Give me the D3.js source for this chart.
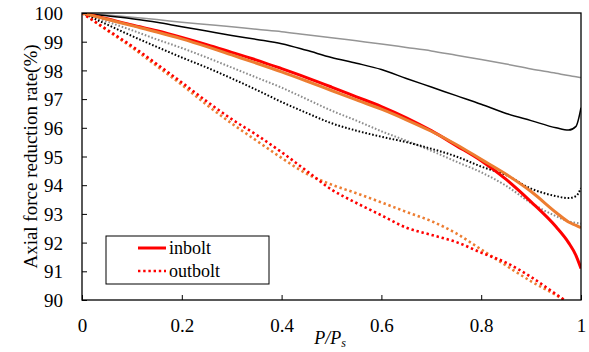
<!DOCTYPE html>
<html>
<head>
<meta charset="utf-8">
<script src="https://cdn.jsdelivr.net/npm/d3@7"></script>
<style>
  body { margin: 0; background: #fff; }
  svg text { font-family: "Liberation Serif", "Times New Roman", serif; fill: #000; }
</style>
</head>
<body>
<svg id="chart" width="589" height="352"></svg>
<script>
// load ratio P/Ps
const ratio = [0, 0.05, 0.1, 0.15, 0.2, 0.25, 0.3, 0.35, 0.4, 0.45, 0.5, 0.55, 0.6, 0.65, 0.7, 0.75, 0.8, 0.85, 0.9, 0.95, 0.975, 0.99, 1];

// axial force reduction rate (%)
const graySolid = [100, 99.93, 99.85, 99.77, 99.68, 99.6, 99.52, 99.43, 99.35, 99.24, 99.14, 99.03, 98.92, 98.8, 98.68, 98.53, 98.38, 98.22, 98.05, 97.9, 97.82, 97.78, 97.75];
const blackSolid = [100, 99.9, 99.8, 99.68, 99.52, 99.37, 99.22, 99.08, 98.93, 98.7, 98.45, 98.25, 98.03, 97.72, 97.42, 97.12, 96.82, 96.5, 96.25, 96.0, 95.92, 96.05, 96.7];
const redSolid = [100, 99.8, 99.58, 99.38, 99.15, 98.9, 98.63, 98.36, 98.06, 97.75, 97.42, 97.08, 96.74, 96.35, 95.9, 95.38, 94.85, 94.2, 93.42, 92.55, 92.0, 91.55, 91.1];
const orangeSolid = [100, 99.78, 99.56, 99.34, 99.1, 98.83, 98.54, 98.25, 97.95, 97.63, 97.3, 96.97, 96.65, 96.28, 95.88, 95.42, 94.9, 94.38, 93.78, 93.05, 92.72, 92.6, 92.52];
const grayDotted = [100, 99.7, 99.4, 99.08, 98.78, 98.45, 98.1, 97.75, 97.4, 97.0, 96.6, 96.25, 95.88, 95.55, 95.2, 94.82, 94.45, 93.98, 93.38, 92.92, 92.74, 92.69, 92.66];
const blackDotted = [100, 99.6, 99.2, 98.82, 98.45, 98.1, 97.72, 97.32, 96.9, 96.52, 96.16, 95.9, 95.69, 95.5, 95.27, 95.0, 94.65, 94.35, 93.88, 93.62, 93.55, 93.62, 93.9];
const redDotted = [100, 99.42, 98.85, 98.22, 97.58, 96.92, 96.3, 95.75, 95.15, 94.5, 93.85, 93.38, 92.95, 92.52, 92.27, 92.02, 91.65, 91.3, 90.8, 90.2, 89.9, 89.7, 89.5];
const orangeDotted = [100, 99.4, 98.8, 98.15, 97.5, 96.8, 96.15, 95.55, 94.95, 94.4, 94.02, 93.72, 93.4, 93.07, 92.75, 92.32, 91.76, 91.2, 90.65, 90.17, 89.9, 89.7, 89.5];

const xTicks = [0, 0.2, 0.4, 0.6, 0.8, 1];
const yTicks = [90, 91, 92, 93, 94, 95, 96, 97, 98, 99, 100];
const legendNames = ["inbolt", "outbolt"];

const margin = { left: 82, top: 13, right: 8, bottom: 52 };
const width = 589, height = 352;
const serif = '"Liberation Serif", "Times New Roman", serif';

const svg = d3.select("#chart");

const x = d3.scaleLinear().domain([0, 1]).range([margin.left, width - margin.right]);
const y = d3.scaleLinear().domain([90, 100]).range([height - margin.bottom, margin.top]);

svg.append("clipPath").attr("id", "plotclip")
  .append("rect")
  .attr("x", x(0)).attr("y", y(100))
  .attr("width", x(1) - x(0)).attr("height", y(90) - y(100));

// series draw order & styles
const series = [
  { values: graySolid, color: "#959595", w: 1.5, dash: null },
  { values: blackSolid, color: "#000000", w: 1.5, dash: null },
  { values: grayDotted, color: "#8c8c8c", w: 2, dash: "1.6,1.9" },
  { values: blackDotted, color: "#000000", w: 2, dash: "1.6,1.9" },
  { values: orangeDotted, color: "#ed7d31", w: 2.6, dash: "2.4,2.8" },
  { values: redDotted, color: "#ff0000", w: 2.6, dash: "2.4,2.8" },
  { values: redSolid, color: "#ff0000", w: 3, dash: null },
  { values: orangeSolid, color: "#ed7d31", w: 3, dash: null }
];

const line = d3.line()
  .x((d, i) => x(ratio[i]))
  .y(d => y(d))
  .curve(d3.curveMonotoneX);

const plot = svg.append("g").attr("clip-path", "url(#plotclip)");
series.forEach(s => {
  plot.append("path")
    .attr("d", line(s.values))
    .attr("fill", "none")
    .attr("stroke", s.color)
    .attr("stroke-width", s.w)
    .attr("stroke-dasharray", s.dash);
});

// axes
const xAxis = d3.axisBottom(x).tickValues(xTicks).tickSizeInner(-5).tickSizeOuter(0)
  .tickFormat(d => d === 0 || d === 1 ? d3.format("d")(d) : d3.format(".1f")(d));
const gx = svg.append("g").attr("transform", "translate(0," + y(90) + ")").call(xAxis)
  .attr("font-family", serif).attr("font-size", 19);
gx.select(".domain").remove();
gx.selectAll("text").attr("dy", null).attr("y", 32)
  .style("font-family", serif).style("font-size", "19px");

const yAxis = d3.axisLeft(y).tickValues(yTicks).tickSizeInner(-5).tickSizeOuter(0).tickFormat(d3.format("d"));
const gy = svg.append("g").attr("transform", "translate(" + x(0) + ",0)").call(yAxis)
  .attr("font-family", serif).attr("font-size", 19);
gy.select(".domain").remove();
gy.selectAll("text").attr("x", -19).attr("dy", "0.35em")
  .style("font-family", serif).style("font-size", "19px");
svg.selectAll(".tick line").attr("stroke", "#000");

// frame
svg.append("rect")
  .attr("x", x(0)).attr("y", y(100))
  .attr("width", x(1) - x(0)).attr("height", y(90) - y(100))
  .attr("fill", "none").attr("stroke", "#000").attr("stroke-width", 1.3);

// axis titles
svg.append("text")
  .attr("transform", "translate(37," + ((y(90) + y(100)) / 2) + ") rotate(-90)")
  .attr("text-anchor", "middle")
  .style("font-size", "19px")
  .text("Axial force reduction rate(%)");

const xt = svg.append("text")
  .attr("x", 330).attr("y", 344)
  .attr("text-anchor", "middle")
  .style("font-size", "18px")
  .style("font-style", "italic");
xt.append("tspan").text("P/P");
xt.append("tspan").attr("dy", 3).style("font-size", "12px").text("s");

// legend
const lg = svg.append("g");
lg.append("rect")
  .attr("x", 106).attr("y", 236).attr("width", 163).attr("height", 48)
  .attr("fill", "#fff").attr("stroke", "#000").attr("stroke-width", 1);
legendNames.forEach((name, i) => {
  const yy = 248 + i * 23;
  lg.append("line")
    .attr("x1", 138).attr("x2", 166).attr("y1", yy).attr("y2", yy)
    .attr("stroke", "#ff0000")
    .attr("stroke-width", i === 0 ? 3 : 2.6)
    .attr("stroke-dasharray", i === 0 ? null : "2.4,2.8");
  lg.append("text")
    .attr("x", 169).attr("y", yy).attr("dy", "0.32em")
    .style("font-size", "18px")
    .text(name);
});
</script>
</body>
</html>
